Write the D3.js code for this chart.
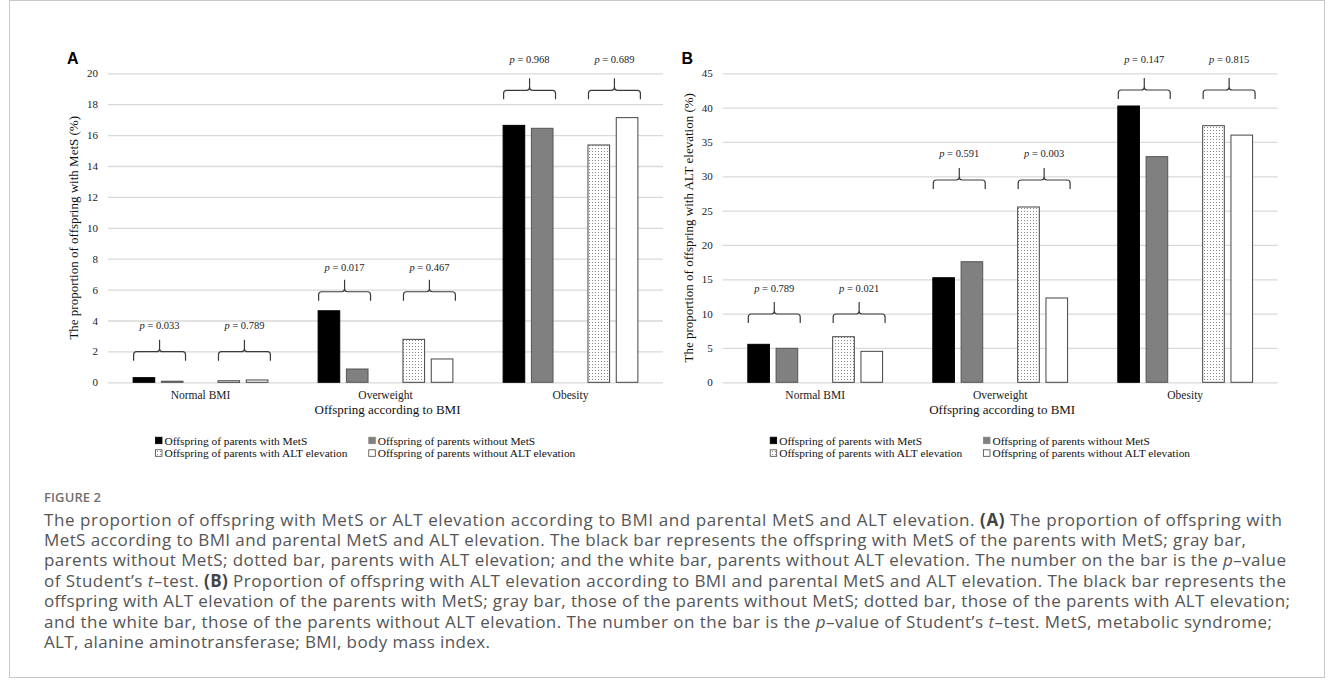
<!DOCTYPE html>
<html><head><meta charset="utf-8">
<script src="https://cdn.jsdelivr.net/npm/d3@7"></script>
<style>
body{margin:0;background:#fff;}
svg{display:block;}
</style></head>
<body>
<svg id="c" width="1333" height="693"></svg>
<script>
// ---------- data ----------
const categories = ["Normal BMI", "Overweight", "Obesity"];
const seriesNames = ["Offspring of parents with MetS", "Offspring of parents without MetS",
  "Offspring of parents with ALT elevation", "Offspring of parents without ALT elevation"];
// Panel A: proportion of offspring with MetS (%)
const metsA   = [0.30, 4.63, 16.63];
const noMetsA = [0.07, 0.86, 16.44];
const altA    = [0.10, 2.78, 15.36];
const noAltA  = [0.15, 1.51, 17.13];
// Panel B: proportion of offspring with ALT elevation (%)
const metsB   = [5.53, 15.23, 40.24];
const noMetsB = [4.95, 17.56, 32.86];
const altB    = [6.64, 25.53, 37.37];
const noAltB  = [4.51, 12.28, 36.00];
// p-values (MetS pair, ALT pair)
const pMetsA = ["0.033", "0.017", "0.968"];
const pAltA  = ["0.789", "0.467", "0.689"];
const pMetsB = ["0.789", "0.591", "0.147"];
const pAltB  = ["0.021", "0.003", "0.815"];
// bracket / label levels in data units
const bracketA = [1.98, 5.86, 18.9];
const labelA   = [3.43, 7.22, 20.69];
const bracketB = [9.95, 29.46, 42.57];
const labelB   = [13.19, 32.77, 46.54];
const ticksA = d3.range(0, 21, 2);
const ticksB = d3.range(0, 46, 5);

const captionLines = [
  [["The proportion of offspring with MetS or ALT elevation according to BMI and parental MetS and ALT elevation. ",""],["(A)","b"],[" The proportion of offspring with",""]],
  [["MetS according to BMI and parental MetS and ALT elevation. The black bar represents the offspring with MetS of the parents with MetS; gray bar,",""]],
  [["parents without MetS; dotted bar, parents with ALT elevation; and the white bar, parents without ALT elevation. The number on the bar is the ",""],["p","i"],["\u2013value",""]],
  [["of Student\u2019s ",""],["t","i"],["\u2013test. ",""],["(B)","b"],[" Proportion of offspring with ALT elevation according to BMI and parental MetS and ALT elevation. The black bar represents the",""]],
  [["offspring with ALT elevation of the parents with MetS; gray bar, those of the parents without MetS; dotted bar, those of the parents with ALT elevation;",""]],
  [["and the white bar, those of the parents without ALT elevation. The number on the bar is the ",""],["p","i"],["\u2013value of Student\u2019s ",""],["t","i"],["\u2013test. MetS, metabolic syndrome;",""]],
  [["ALT, alanine aminotransferase; BMI, body mass index.",""]]
];
const captionWidths = [1238, 1202, 1242, 1242, 1246, 1228, 446];

// ---------- drawing ----------
const svg = d3.select("#c");
const serif = "'Liberation Serif','Times New Roman',serif";

// outer frame
svg.append("rect").attr("x", 9.5).attr("y", 0.5).attr("width", 1315).attr("height", 677)
  .attr("fill", "none").attr("stroke", "#c8c8c8").attr("stroke-width", 1);

// dotted pattern
const defs = svg.append("defs");
const pat = defs.append("pattern").attr("id", "dots").attr("patternUnits", "userSpaceOnUse")
  .attr("width", 3).attr("height", 3);
pat.append("rect").attr("width", 3).attr("height", 3).attr("fill", "#fff");
pat.append("rect").attr("x", 1).attr("y", 1).attr("width", 1).attr("height", 1).attr("fill", "#8a8a8a");

const styles = [
  {fill: "#000", stroke: "#000"},
  {fill: "#808080", stroke: "#555"},
  {fill: "url(#dots)", stroke: "#444"},
  {fill: "#fff", stroke: "#444"}
];
const slotKeys = ["s0", "s1", "gap", "s2", "s3"];

function panel(opt) {
  const g = svg.append("g");
  const left = opt.left, right = opt.left + 555, top = 73.3, bottom = 382.3;
  const y = d3.scaleLinear().domain(opt.domain).range([bottom, top]);
  const x0 = d3.scaleBand().domain(categories).range([left, right]).padding(0);
  const x1 = d3.scaleBand().domain(slotKeys).range([0, x0.bandwidth()])
    .paddingInner(0.2).paddingOuter(0.87);

  // gridlines + tick labels
  const yAxis = d3.axisLeft(y).tickValues(opt.ticks).tickSize(-(right - left)).tickPadding(10);
  const ax = g.append("g").attr("transform", `translate(${left},0)`).call(yAxis);
  ax.select(".domain").remove();
  ax.selectAll(".tick line").attr("stroke", "#d9d9d9").attr("stroke-width", 1.3);
  ax.selectAll(".tick text").attr("font-family", serif).attr("font-size", 11).attr("fill", "#222");

  // bars
  opt.series.forEach((vals, si) => {
    const key = ["s0", "s1", "s2", "s3"][si];
    g.append("g").selectAll("rect").data(vals).join("rect")
      .attr("x", (d, i) => x0(categories[i]) + x1(key) + 0.5)
      .attr("y", d => y(d))
      .attr("width", x1.bandwidth() - 1)
      .attr("height", d => y(0) - y(d))
      .attr("fill", styles[si].fill)
      .attr("stroke", styles[si].stroke)
      .attr("stroke-width", 1);
  });

  // brackets + p labels
  const pairs = [["s0", "s1", opt.pMets], ["s2", "s3", opt.pAlt]];
  categories.forEach((c, i) => {
    pairs.forEach(([a, b, pv]) => {
      const xa = x0(c) + x1(a) + 1, xb = x0(c) + x1(b) + x1.bandwidth() + 2;
      const xc = (xa + xb) / 2, yb = y(opt.bracket[i]);
      const r = 3;
      const p = d3.path();
      p.moveTo(xa, yb + 9); p.lineTo(xa, yb + r); p.quadraticCurveTo(xa, yb, xa + r, yb);
      p.lineTo(xc - r, yb); p.quadraticCurveTo(xc, yb, xc, yb - r); p.lineTo(xc, yb - 12);
      p.moveTo(xc, yb - r); p.quadraticCurveTo(xc, yb, xc + r, yb);
      p.lineTo(xb - r, yb); p.quadraticCurveTo(xb, yb, xb, yb + r); p.lineTo(xb, yb + 9);
      g.append("path").attr("d", p.toString()).attr("fill", "none")
        .attr("stroke", "#3a3a3a").attr("stroke-width", 1.2);
      const t = g.append("text").attr("x", xc).attr("y", y(opt.label[i]))
        .attr("text-anchor", "middle").attr("font-family", serif).attr("font-size", 10.5).attr("fill", "#222");
      t.append("tspan").attr("font-style", "italic").text("p");
      t.append("tspan").text(" = " + pv[i]);
    });
  });

  // category labels
  g.append("g").selectAll("text").data(categories).join("text")
    .attr("x", d => x0(d) + x0.bandwidth() / 2).attr("y", 399)
    .attr("text-anchor", "middle").attr("font-family", serif).attr("font-size", 11.5).attr("fill", "#222")
    .text(d => d);
  g.append("text").attr("x", (left + right) / 2 + 2).attr("y", 414)
    .attr("text-anchor", "middle").attr("font-family", serif).attr("font-size", 13).attr("fill", "#111")
    .text("Offspring according to BMI");
  // y title
  g.append("text").attr("transform", `translate(${left - 30},${(top + bottom) / 2}) rotate(-90)`)
    .attr("text-anchor", "middle").attr("font-family", serif).attr("font-size", 13).attr("fill", "#111")
    .text(opt.yTitle);
  // panel letter
  g.append("text").attr("x", opt.letterX).attr("y", 64).attr("font-family", "'Liberation Sans',Arial,sans-serif")
    .attr("font-weight", "bold").attr("font-size", 16).attr("fill", "#000").text(opt.letter);

  // legend
  const lg = g.append("g");
  seriesNames.forEach((n, i) => {
    const lx = left + 47 + (i % 2) * 213.3, ly = 440.7 + Math.floor(i / 2) * 12.6;
    lg.append("rect").attr("x", lx + 0.5).attr("y", ly - 3.5).attr("width", 6.5).attr("height", 6.5)
      .attr("fill", styles[i].fill).attr("stroke", i === 1 ? "#808080" : styles[i].stroke).attr("stroke-width", 0.8);
    lg.append("text").attr("x", lx + 9.5).attr("y", ly + 3.8).attr("font-family", serif)
      .attr("font-size", 11.4).attr("fill", "#111").text(n);
  });
}

panel({left: 108, domain: [0, 20], ticks: ticksA,
  series: [metsA, noMetsA, altA, noAltA], pMets: pMetsA, pAlt: pAltA,
  bracket: bracketA, label: labelA, yTitle: "The proportion of offspring with MetS (%)",
  letter: "A", letterX: 67});
panel({left: 722.7, domain: [0, 45], ticks: ticksB,
  series: [metsB, noMetsB, altB, noAltB], pMets: pMetsB, pAlt: pAltB,
  bracket: bracketB, label: labelB, yTitle: "The proportion of offspring with ALT elevation (%)",
  letter: "B", letterX: 681.5});

// caption
const sans = "'Open Sans','Noto Sans',sans-serif";
svg.append("text").attr("x", 44).attr("y", 502).attr("font-family", sans).attr("font-size", 13)
  .attr("font-weight", 600).attr("fill", "#707070").attr("letter-spacing", 0.1).text("FIGURE 2");
captionLines.forEach((line, li) => {
  const t = svg.append("text").attr("x", 44).attr("y", 525.5 + li * 20.4)
    .attr("font-family", sans).attr("font-size", 17).attr("fill", "#555")
    .attr("textLength", captionWidths[li]).attr("lengthAdjust", "spacing");
  line.forEach(([s, st]) => {
    const ts = t.append("tspan").text(s);
    if (st === "b") ts.attr("font-weight", "bold").attr("fill", "#444");
    if (st === "i") ts.attr("font-style", "italic");
  });
});
</script>
</body></html>
